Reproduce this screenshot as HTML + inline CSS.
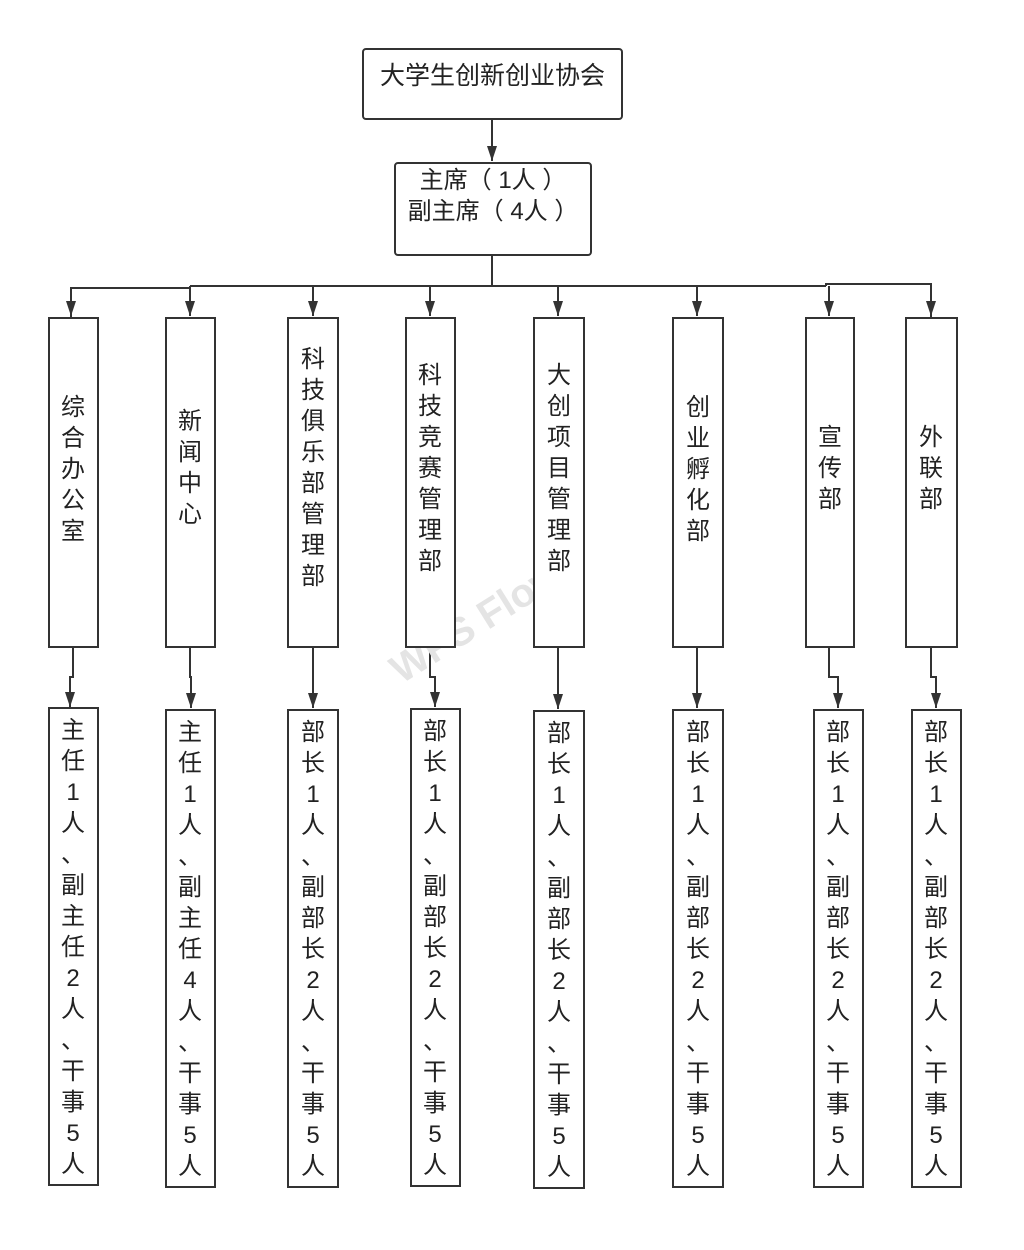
<!DOCTYPE html>
<html><head><meta charset="utf-8">
<style>
body{margin:0;background:#fff;width:1024px;height:1250px;position:relative;overflow:hidden;font-family:"Liberation Sans","Noto Sans CJK SC",sans-serif;color:#222}
.b{position:absolute;border:2px solid #333;box-sizing:border-box;background:#fff}
.v{position:absolute;font-size:24px;line-height:31px;text-align:center;width:40px}
.wm{position:absolute;left:380px;top:600px;transform:rotate(-32deg);color:#e4e4e4;font-size:40px;font-weight:bold}
</style></head><body>
<svg width="1024" height="1250" style="position:absolute;left:0;top:0">
<defs><marker id="a" markerWidth="16" markerHeight="12" refX="15" refY="6" orient="auto" markerUnits="userSpaceOnUse"><path d="M0,1 L15,6 L0,11 Z" fill="#333"/></marker></defs>
<g stroke="#333" stroke-width="2" fill="none">
<line x1="492" y1="119" x2="492" y2="161" marker-end="url(#a)"/>
<line x1="492" y1="255" x2="492" y2="286"/>
<polyline points="71,317 71,288 190,288"/>
<line x1="190" y1="286" x2="826" y2="286"/>
<polyline points="826,286 826,284 931,284 931,317"/>
<line x1="71" y1="288" x2="71" y2="316" marker-end="url(#a)"/>
<line x1="190" y1="286" x2="190" y2="316" marker-end="url(#a)"/>
<line x1="313" y1="286" x2="313" y2="316" marker-end="url(#a)"/>
<line x1="430" y1="286" x2="430" y2="316" marker-end="url(#a)"/>
<line x1="558" y1="286" x2="558" y2="316" marker-end="url(#a)"/>
<line x1="697" y1="286" x2="697" y2="316" marker-end="url(#a)"/>
<line x1="829" y1="286" x2="829" y2="316" marker-end="url(#a)"/>
<line x1="931" y1="286" x2="931" y2="316" marker-end="url(#a)"/>
<polyline points="73,647 73,677 70,677 70,707" marker-end="url(#a)"/>
<polyline points="190,647 190,677 191,677 191,708" marker-end="url(#a)"/>
<polyline points="313,647 313,708" marker-end="url(#a)"/>
<polyline points="430,647 430,677 435,677 435,707" marker-end="url(#a)"/>
<polyline points="558,647 558,709" marker-end="url(#a)"/>
<polyline points="697,647 697,708" marker-end="url(#a)"/>
<polyline points="829,647 829,677 838,677 838,708" marker-end="url(#a)"/>
<polyline points="931,647 931,677 936,677 936,708" marker-end="url(#a)"/>
</g></svg>
<div class="wm">WPS Flow</div>
<div class="b" style="left:362px;top:48px;width:261px;height:72px;border-radius:4px;font-size:25px;text-align:center;padding-top:6px">大学生创新创业协会</div>
<div class="b" style="left:394px;top:162px;width:198px;height:94px;border-radius:4px;font-size:24px;line-height:31px;text-align:center;padding-top:1px">主席（ 1人 ）<br>副主席（ 4人 ）</div>

<div class="b" style="left:48px;top:317px;width:51px;height:331px"></div>
<div class="b" style="left:165px;top:317px;width:51px;height:331px"></div>
<div class="b" style="left:287px;top:317px;width:52px;height:331px"></div>
<div class="b" style="left:405px;top:317px;width:51px;height:331px"></div>
<div class="b" style="left:533px;top:317px;width:52px;height:331px"></div>
<div class="b" style="left:672px;top:317px;width:52px;height:331px"></div>
<div class="b" style="left:805px;top:317px;width:50px;height:331px"></div>
<div class="b" style="left:905px;top:317px;width:53px;height:331px"></div>

<div class="v" style="left:53px;top:392px">综<br>合<br>办<br>公<br>室</div>
<div class="v" style="left:170px;top:406px">新<br>闻<br>中<br>心</div>
<div class="v" style="left:293px;top:344px">科<br>技<br>俱<br>乐<br>部<br>管<br>理<br>部</div>
<div class="v" style="left:410px;top:360px">科<br>技<br>竞<br>赛<br>管<br>理<br>部</div>
<div class="v" style="left:539px;top:360px">大<br>创<br>项<br>目<br>管<br>理<br>部</div>
<div class="v" style="left:678px;top:392px">创<br>业<br>孵<br>化<br>部</div>
<div class="v" style="left:810px;top:422px">宣<br>传<br>部</div>
<div class="v" style="left:911px;top:422px">外<br>联<br>部</div>

<div class="b" style="left:48px;top:707px;width:51px;height:479px"></div>
<div class="b" style="left:165px;top:709px;width:51px;height:479px"></div>
<div class="b" style="left:287px;top:709px;width:52px;height:479px"></div>
<div class="b" style="left:410px;top:708px;width:51px;height:479px"></div>
<div class="b" style="left:533px;top:710px;width:52px;height:479px"></div>
<div class="b" style="left:672px;top:709px;width:52px;height:479px"></div>
<div class="b" style="left:813px;top:709px;width:51px;height:479px"></div>
<div class="b" style="left:911px;top:709px;width:51px;height:479px"></div>

<div class="v" style="left:53px;top:715px">主<br>任<br>1<br>人<br>、<br>副<br>主<br>任<br>2<br>人<br>、<br>干<br>事<br>5<br>人</div>
<div class="v" style="left:170px;top:717px">主<br>任<br>1<br>人<br>、<br>副<br>主<br>任<br>4<br>人<br>、<br>干<br>事<br>5<br>人</div>
<div class="v" style="left:293px;top:717px">部<br>长<br>1<br>人<br>、<br>副<br>部<br>长<br>2<br>人<br>、<br>干<br>事<br>5<br>人</div>
<div class="v" style="left:415px;top:716px">部<br>长<br>1<br>人<br>、<br>副<br>部<br>长<br>2<br>人<br>、<br>干<br>事<br>5<br>人</div>
<div class="v" style="left:539px;top:718px">部<br>长<br>1<br>人<br>、<br>副<br>部<br>长<br>2<br>人<br>、<br>干<br>事<br>5<br>人</div>
<div class="v" style="left:678px;top:717px">部<br>长<br>1<br>人<br>、<br>副<br>部<br>长<br>2<br>人<br>、<br>干<br>事<br>5<br>人</div>
<div class="v" style="left:818px;top:717px">部<br>长<br>1<br>人<br>、<br>副<br>部<br>长<br>2<br>人<br>、<br>干<br>事<br>5<br>人</div>
<div class="v" style="left:916px;top:717px">部<br>长<br>1<br>人<br>、<br>副<br>部<br>长<br>2<br>人<br>、<br>干<br>事<br>5<br>人</div>
</body></html>
